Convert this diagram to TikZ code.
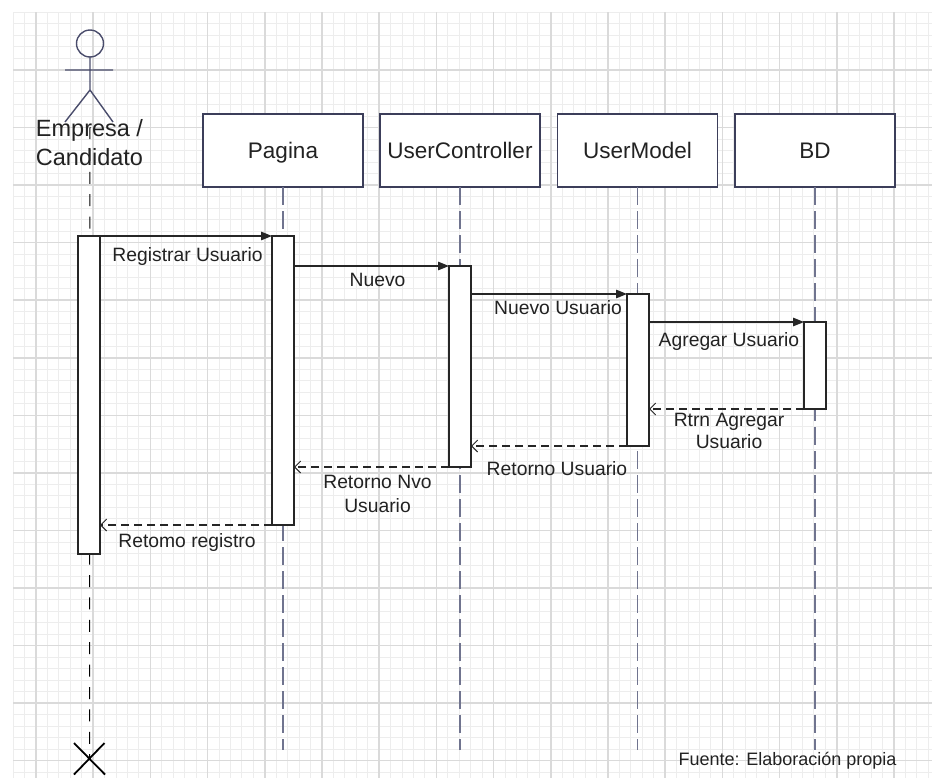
\documentclass[tikz,border=0pt]{standalone}
\usepackage{fontspec}
\setmainfont{Liberation Sans}
\usetikzlibrary{arrows.meta,calc}
\definecolor{gridminor}{HTML}{EDEDED}
\definecolor{gridmajor}{HTML}{DADADA}
\definecolor{lifec}{HTML}{70748F}
\definecolor{boxc}{HTML}{3C3E5A}
\definecolor{actorc}{HTML}{4A4D6C}
\definecolor{msgc}{HTML}{262626}
\definecolor{txtc}{HTML}{222222}
\begin{document}
\begin{tikzpicture}[x=1pt,y=-1pt,
  headbox/.style={draw=boxc, line width=1.2pt, fill=white, minimum width=160pt, minimum height=73pt,
    inner sep=0pt, outer sep=0pt, font=\fontsize{22.5}{26}\selectfont, text=txtc, text height=16.1pt, text depth=0pt},
  actbar/.style={draw=msgc, line width=1.2pt, fill=white, minimum width=22pt, inner sep=0pt, outer sep=0pt},
  lifeline/.style={draw=lifec, line width=1.8pt, dash pattern=on 17.5pt off 6.5pt},
  actline/.style={draw=black, line width=1pt, dash pattern=on 12pt off 10.4pt},
  callmsg/.style={draw=msgc, line width=1.3pt, -{Triangle[length=11pt,width=8.5pt]}},
  retmsg/.style={draw=msgc, line width=1.1pt, dash pattern=on 8pt off 5pt, -{Straight Barb[length=6pt,width=12pt,line width=0.9pt]}},
  msgtxt/.style={font=\fontsize{19.3}{23}\selectfont, text=txtc, anchor=base, inner sep=0pt},
]
\useasboundingbox (0,0) rectangle (932,782);
\fill[white] (0,0) rectangle (932,782);
% grid
\begin{scope}
  \clip (13,12.5) rectangle (932,777);
  \foreach \i in {0,...,80}
    \draw[gridminor, line width=1pt] ({13.1+11.44*\i},0) -- ({13.1+11.44*\i},782);
  \foreach \j in {0,...,67}
    \draw[gridminor, line width=1pt] (0,{12.45+11.512*\j}) -- (932,{12.45+11.512*\j});
  \foreach \k in {0,...,16}
    \draw[gridmajor, line width=1.5pt] ({35.98+57.2*\k},0) -- ({35.98+57.2*\k},782);
  \foreach \k in {0,...,13}
    \draw[gridmajor, line width=1.5pt] (0,{70+57.56*\k}) -- (932,{70+57.56*\k});
\end{scope}

% header boxes
\node[headbox] (pag) at (283,150.5) {Pagina};
\node[headbox] (uc)  at (460,150.5) {UserController};
\node[headbox] (um)  at (637.5,150.5) {UserModel};
\node[headbox] (bd)  at (815,150.5) {BD};

% lifeline ends
\coordinate (pagend) at (283,750);
\coordinate (ucend)  at (460,750);
\coordinate (umend)  at (637.5,750);
\coordinate (bdend)  at (815,750);
\coordinate (actstart) at (90,127);
\coordinate (xmark) at (89.5,758.5);

\draw[lifeline] (pag.south) -- (pagend);
\draw[lifeline] (uc.south) -- (ucend);
\draw[lifeline] (um.south) -- (umend);
\draw[lifeline] (bd.south) -- (bdend);
\draw[actline] (actstart) -- (xmark);

% actor
\draw[actorc, line width=1.4pt] (90,43.5) circle[radius=13.5pt];
\draw[actorc, line width=1.4pt] (90,57) -- (90,90) (65,70) -- (113,70) (65,122) -- (90,90) -- (113,122);
\node[font=\fontsize{23.5}{29}\selectfont, text=txtc, anchor=base, inner sep=0pt] (actlbl) at (89.5,136.7)
  {\begin{tabular}[t]{@{}c@{}}Empresa /\\Candidato\end{tabular}};

% destruction mark
\draw[black, line width=1.8pt] ($(xmark)+(-15.5,-15.5)$) -- ($(xmark)+(15.5,16)$)
  ($(xmark)+(15,-15.5)$) -- ($(xmark)+(-15.5,16)$);

% activation bars
\node[actbar, minimum height=318pt] (ba)  at (89,395) {};
\node[actbar, minimum height=289pt] (bp)  at (283,380.5) {};
\node[actbar, minimum height=201pt] (buc) at (460,366.5) {};
\node[actbar, minimum height=152pt] (bum) at (638,370) {};
\node[actbar, minimum height=87pt]  (bbd) at (815,365.5) {};

% messages
\draw[callmsg] (ba.north east) -- (bp.north west);
\draw[callmsg] (bp.east |- buc.north) -- (buc.north west);
\draw[callmsg] (buc.east |- bum.north) -- (bum.north west);
\draw[callmsg] (bum.east |- bbd.north) -- (bbd.north west);
\draw[retmsg] (bbd.south west) -- (bum.east |- bbd.south);
\draw[retmsg] (bum.south west) -- (buc.east |- bum.south);
\draw[retmsg] (buc.south west) -- (bp.east |- buc.south);
\draw[retmsg] (bp.south west) -- (ba.east |- bp.south);

% labels
\node[msgtxt] (l1) at (187.5,261) {Registrar Usuario};
\node[msgtxt] (l2) at (377.5,286.7) {Nuevo};
\node[msgtxt] (l3) at (558,314.3) {Nuevo Usuario};
\node[msgtxt] (l4) at (729,346.7) {Agregar Usuario};
\node[msgtxt, font=\fontsize{19.3}{21.5}\selectfont] (l5) at (729,426.7)
  {\begin{tabular}[t]{@{}c@{}}Rtrn Agregar\\Usuario\end{tabular}};
\node[msgtxt] (l6) at (557,475) {Retorno Usuario};
\node[msgtxt, font=\fontsize{19.3}{24}\selectfont] (l7) at (377.5,488.3)
  {\begin{tabular}[t]{@{}c@{}}Retorno Nvo\\Usuario\end{tabular}};
\node[msgtxt] (l8) at (187,547.5) {Retomo registro};

% source
\node[font=\fontsize{18}{22}\selectfont, text=txtc, anchor=base, inner sep=0pt] (src) at (787.5,765)
  {Fuente: Elaboración propia};
\end{tikzpicture}
\end{document}
